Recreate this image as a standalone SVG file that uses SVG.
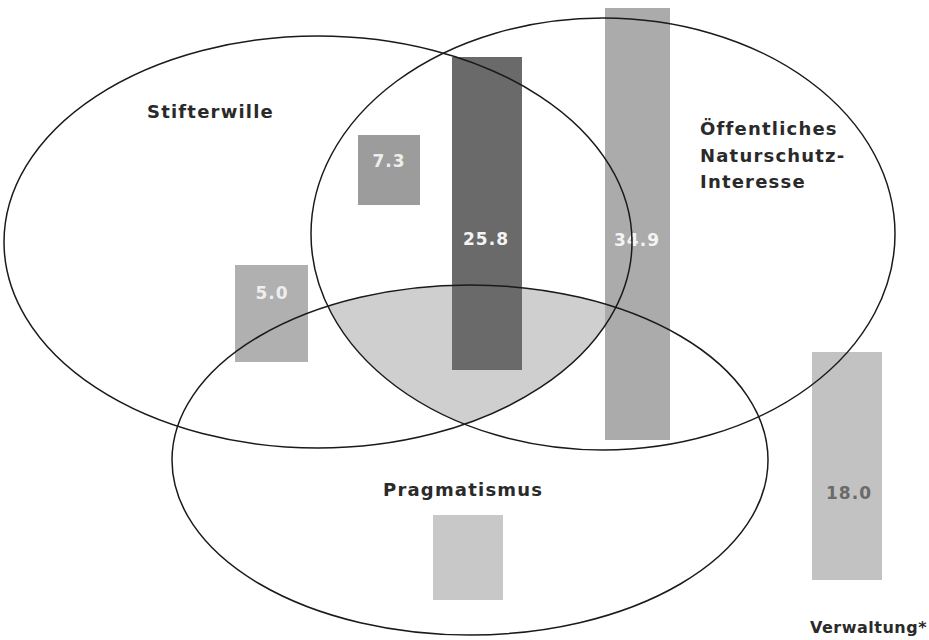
<svg xmlns="http://www.w3.org/2000/svg" width="929" height="640" viewBox="0 0 929 640">
<style>
.ring{fill:none;stroke:#1a1a1a;stroke-width:1.5}
.lbl{font-family:"DejaVu Sans","Liberation Sans",sans-serif;font-weight:bold;font-size:18px;letter-spacing:1.2px;fill:#2a2a2a}
.val{font-family:"DejaVu Sans","Liberation Sans",sans-serif;font-weight:bold;font-size:17px;letter-spacing:1px;text-anchor:middle}
</style>
<defs>
<clipPath id="cL"><ellipse cx="318" cy="242" rx="314" ry="206"/></clipPath>
<clipPath id="cR"><ellipse cx="603" cy="234" rx="292" ry="216"/></clipPath>
</defs>
<rect width="929" height="640" fill="#ffffff"/>
<g id="overlap">
<g clip-path="url(#cL)"><g clip-path="url(#cR)"><ellipse cx="470" cy="460" rx="298" ry="175" fill="#cfcfcf"/></g></g>
</g>
<g id="bars">
<g id="bar-stifter-natur"><rect x="358" y="135" width="62" height="70" fill="#9c9c9c"/><text class="val" x="389" y="167" fill="#eeeeee">7.3</text></g>
<g id="bar-center"><rect x="452" y="57" width="70" height="313" fill="#6a6a6a"/><text class="val" x="486" y="245" fill="#f4f4f4">25.8</text></g>
<g id="bar-natur"><rect x="605" y="8" width="65" height="432" fill="#ababab"/><text class="val" x="637" y="246" fill="#f4f4f4">34.9</text></g>
<g id="bar-stifter-prag"><rect x="235" y="265" width="73" height="97" fill="#b0b0b0"/><text class="val" x="272" y="299" fill="#eeeeee">5.0</text></g>
<g id="bar-prag"><rect x="433" y="515" width="70" height="85" fill="#c8c8c8"/></g>
<g id="bar-verwaltung"><rect x="812" y="352" width="70" height="228" fill="#c2c2c2"/><text class="val" x="849" y="499" fill="#6a6a6a">18.0</text></g>
</g>
<g id="connectors">
<ellipse class="ring" cx="318" cy="242" rx="314" ry="206"/>
<ellipse class="ring" cx="603" cy="234" rx="292" ry="216"/>
<ellipse class="ring" cx="470" cy="460" rx="298" ry="175"/>
</g>
<g id="node-stifterwille"><text class="lbl" x="147" y="118">Stifterwille</text></g>
<g id="node-natur">
<text class="lbl" x="700" y="135">Öffentliches</text>
<text class="lbl" x="700" y="162">Naturschutz-</text>
<text class="lbl" x="700" y="188">Interesse</text>
</g>
<g id="node-pragmatismus"><text class="lbl" x="383" y="496">Pragmatismus</text></g>
<g id="node-verwaltung"><text class="lbl" x="810" y="633" style="font-size:16px;letter-spacing:0.5px">Verwaltung*</text></g>
</svg>
